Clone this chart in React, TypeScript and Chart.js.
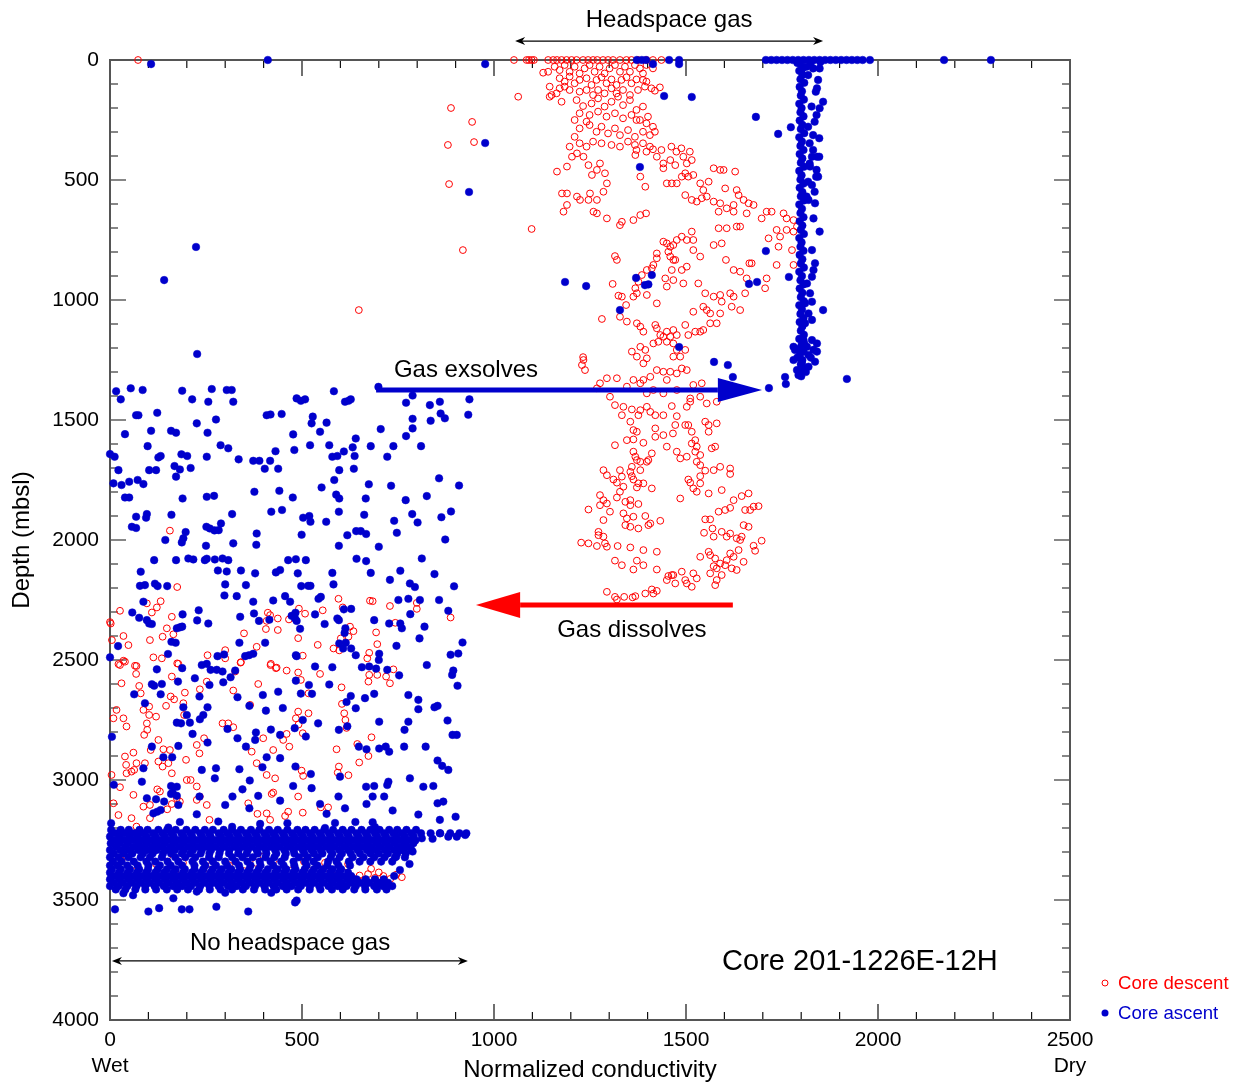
import { useEffect, useRef } from 'react';
import { Chart, registerables } from 'chart.js';

Chart.register(...registerables);

type P = [number, number];

// ---------- axis tick labels ----------
const xMajorTicks = [0, 500, 1000, 1500, 2000, 2500];
const xEndNotes = ['Wet', 'Dry'];
const yMajorTicks = [0, 500, 1000, 1500, 2000, 2500, 3000, 3500, 4000];

// ---------- Core descent (red open circles) ----------
const descentSurface: P[] = [[73,0],[1052,0],[1085,0],[1091,0],[1098,0],[1104,0],[1141,0],[1154,0],[1164,0],[1176,0],[1189,0],[1202,0],[1215,0],[1232,0],[1245,0],[1258,0],[1269,0],[1284,0],[1297,0],[1310,0],[1328,0],[1345,0],[1358,0],[1375,0],[1397,0],[1414,0],[1436,0]];

const descentShallow: P[] = [[1128,53],[1141,49],[1158,28],[1171,42],[1184,21],[1197,49],[1210,28],[1223,56],[1236,35],[1249,21],[1262,49],[1275,28],[1288,56],[1301,35],[1315,21],[1328,49],[1341,28],[1354,49],[1367,21],[1380,35],[1397,21],[1414,35],
[1171,76],[1184,90],[1197,69],[1210,97],[1223,83],[1241,76],[1254,104],[1267,83],[1280,72],[1293,97],[1306,81],[1319,104],[1332,83],[1345,72],[1358,97],[1371,81],[1388,83],
[1171,118],[1184,111],[1197,125],[1163,139],[1150,146],[1145,111],[1223,132],[1241,125],[1258,146],[1271,125],[1288,139],[1306,118],[1319,139],[1336,125],[1354,146],[1375,125],[1393,111],[1410,118],[1419,128],[1432,114],[1397,90],[1388,56],
[1063,153],[1145,153],[1176,174],[1215,167],[1232,192],[1254,181],[1271,160],[1288,194],[1306,174],[1323,153],[1336,188],[1354,167],[1371,208],[1388,194],[1223,222],[1249,229],[1271,215],[1293,236],[1315,222],[1336,243],[1358,229],[1380,250],[1401,236],[1210,250],[1241,257],
[1223,285],[1249,271],[1267,299],[1280,278],[1297,306],[1315,285],[1328,313],[1349,292],[1367,320],[1388,299],[1406,313],[1419,299],[1397,264],[1414,278],[1371,250],[1210,320],[1223,347],[1241,361],[1258,340],[1280,347],[1306,354],[1328,361],[1349,340],[1367,354],[1388,347],[1406,361],[1197,361],
[1371,375],[1397,382],[1414,372],[1436,375],[1462,361],[1475,382],[1488,368],[1510,382]];

const descentMid: P[] = [[1164,465],[1190,444],[1203,403],[1216,389],[1233,403],[1246,438],[1255,479],[1268,458],[1276,431],[1289,472],[1294,514],[1285,549],[1268,583],[1246,583],[1224,583],[1216,569],[1190,556],[1177,556],[1190,604],[1181,632],[1250,556],[1259,632],[1268,639],[1294,660],[1333,674],[1363,667],[1381,646],[1396,639],[1328,688],[1368,396],[1381,486],[1394,528],[1424,403],[1441,431],[1459,417],[1472,438],[1493,403],[1502,431],[1515,417],[1441,451],[1450,514],[1463,514],[1476,514],[1489,486],[1498,472],[1506,486],[1519,479],[1537,514],[1498,563],[1515,583],[1528,590],[1541,576],[1554,569],[1545,542],[1559,507],[1572,451],[1589,458],[1598,458],[1628,465],[1572,590],[1589,597],[1585,632],[1606,618],[1624,604],[1602,535],[1632,542],[1637,563],[1650,583],[1663,597],[1676,604],[1624,632],[1658,639],[1632,694],[1641,694],[1585,701],[1606,701],[1697,660],[1710,632],[1723,632],[1754,639],[1762,660],[1780,667],[1789,694],[1762,708],[1736,708],[1745,736],[1780,715],[1715,743],[1741,778],[1776,792],[1780,854],[1736,854],
[1441,757],[1450,764],[1459,778],[1467,771],[1476,750],[1489,736],[1515,715],[1502,750],[1519,750],[1454,799],[1459,819],[1467,833],[1424,806],[1424,826],[1415,854],[1411,868],[1398,875],[1385,896],[1376,924],[1368,951],[1372,972],[1363,986],[1398,979],[1424,1014],[1450,944],[1446,910],[1463,875],[1472,833],[1489,875],[1502,861],[1467,917],[1493,931],[1537,819],[1519,792],[1572,771],[1593,764],[1604,833],[1624,875],[1641,882],[1665,847],[1671,847],[1658,910],[1710,910],[1706,951],[1654,972],[1615,972],[1589,979],[1624,986],[1593,1007],[1572,986],[1550,972],[1545,1028],[1554,1042],[1563,1056],[1519,1049],[1532,931],[1315,817],[1320,833],[1309,933],[1324,982],[1333,986],[1344,1021],[1328,1070],[1281,1079],[1346,1090],[1372,1097],[1381,1111],[1389,1132],[1420,1104],[1424,1118],[1433,1146],[1450,1132],[1467,1125],[1476,1146],[1498,1104],[1506,1146],[1524,1132],[1537,1132],[1545,1125],[1563,1097],[1580,1097],[1589,1056],[1619,1028],[1641,1042],[1233,1250],[1237,1292],
[1359,1215],[1372,1236],[1381,1195],[1394,1208],[1389,1264],[1398,1243],[1415,1181],[1428,1174],[1441,1153],[1450,1174],[1459,1153],[1467,1181],[1476,1208],[1467,1236],[1485,1236],[1498,1208],[1502,1292],[1489,1285],[1476,1306],[1459,1299],[1441,1299],[1424,1292],[1407,1320],[1389,1333],[1381,1347],[1363,1333],[1346,1361],[1320,1326],[1294,1326],[1276,1347],[1268,1368],[1302,1403],[1537,1403],[1511,1410],[1541,1347],[1519,1354],[1450,1333],[1476,1375],[1441,1389],[1415,1375],[1398,1389]];

const descentDeep: P[] = [[1315,1438],[1333,1480],[1337,1445],[1359,1456],[1376,1480],[1381,1459],[1398,1445],[1407,1466],[1420,1480],[1441,1480],[1463,1442],[1476,1484],[1502,1445],[1511,1424],[1554,1431],[1580,1424],[1355,1507],[1363,1542],[1372,1549],[1389,1595],[1420,1535],[1420,1570],[1441,1563],[1450,1611],[1466,1556],[1472,1521],[1476,1632],[1485,1660],[1498,1521],[1506,1521],[1515,1549],[1515,1598],[1524,1584],[1528,1611],[1502,1653],[1528,1674],[1537,1646],[1550,1507],[1559,1521],[1559,1549],[1580,1514],[1567,1618],[1576,1611],[1315,1605],[1346,1584],[1363,1581],[1363,1632],[1368,1653],[1372,1667],[1381,1674],[1398,1674],[1411,1639],[1402,1667],
[1285,1709],[1294,1730],[1311,1748],[1320,1761],[1328,1709],[1333,1736],[1359,1695],[1355,1716],[1359,1734],[1381,1709],[1363,1748],[1376,1764],[1389,1764],[1372,1781],[1411,1785],[1337,1778],[1328,1799],[1276,1813],[1285,1834],[1294,1848],[1276,1855],[1302,1882],[1320,1823],[1342,1841],[1355,1834],[1355,1855],[1376,1850],[1337,1889],[1346,1910],[1363,1903],[1342,1938],[1355,1945],[1376,1952],[1394,1900],[1407,1931],[1402,1938],[1433,1920],[1285,1917],[1272,1966],[1272,1980],[1285,1986],[1289,2014],[1294,2028],[1246,1873],[1227,2011],[1246,2014],[1268,2025],[1322,2025],[1355,2031],[1389,2042],[1424,2049],[1315,2086],[1333,2105],[1372,2086],[1389,2105],[1363,2123],[1424,2123],
[1294,2216],[1315,2237],[1320,2248],[1339,2237],[1361,2239],[1368,2234],[1394,2223],[1411,2206],[1415,2223],[1424,2212],[1450,2167],[1454,2150],[1463,2146],[1467,2146],[1472,2181],[1489,2132],[1498,2167],[1502,2181],[1515,2195],[1519,2139],[1528,2160],[1537,2070],[1559,2049],[1563,2063],[1576,2077],[1572,2109],[1563,2139],[1580,2118],[1580,2167],[1576,2188],[1593,2146],[1589,2098],[1602,2105],[1615,2056],[1619,2118],[1606,2084],[1624,2070],[1632,2125],[1637,2042],[1650,2091],[1676,2024],[1680,2045],[1697,2003],[1641,2000],[1632,1993],[1645,1986],[1615,1973],[1606,1986],[1593,1966],[1572,1986],[1547,1970],[1569,1952],[1550,1914],[1563,1914],[1585,1882],[1602,1875],[1615,1866],[1624,1834],[1645,1817],[1663,1806],[1654,1875],[1667,1875],[1676,1861],[1689,1859],[1650,1938],[1663,1945],[1485,1827],[1506,1748],[1511,1761],[1519,1785],[1528,1799],[1537,1764],[1537,1734],[1559,1806],[1593,1792],[1550,1711],[1572,1709],[1589,1695],[1615,1702],[1615,1725],[1524,1632],[1537,1688]];

const descentOutliers: P[] = [[888,200],[943,258],[880,354],[948,342],[883,517],[919,792],[648,1042],[1098,704],[1232,1238],[1229,1271]];

const descentLowerA: P[] = [[156,1961],[175,2196],[96,2264],[132,2255],[122,2281],[109,2302],[161,2320],[26,2295],[2,2348],[35,2400],[48,2438],[104,2417],[137,2403],[148,2368],[165,2393],[113,2489],[65,2524],[22,2517],[35,2503],[175,2514],[254,2480],[300,2459],[349,2389],[382,2445],[408,2337],[411,2303],[417,2313],[437,2327],[406,2371],[437,2375],[466,2331],[492,2286],[508,2307],[554,2293],[490,2409],[502,2482],[541,2437],[582,2452],[597,2460],[601,2410],[621,2403],[634,2380],[595,2245],[606,2281],[625,2361],[677,2253],[684,2255],[729,2275],[743,2345],[799,2262],[799,2287],[887,2323],[693,2385],[696,2434],[670,2493],[675,2470],[418,2521],[434,2532],[300,2493],[341,2509],[0,2342],[5,2417]];

const descentLowerB: P[] = [[69,2525],[26,2521],[39,2507],[68,2558],[76,2608],[80,2639],[30,2597],[17,2708],[9,2743],[35,2743],[43,2777],[87,2708],[102,2694],[102,2729],[96,2764],[89,2812],[97,2791],[126,2833],[106,2875],[139,2872],[120,2736],[161,2569],[135,2493],[178,2516],[195,2636],[167,2664],[158,2652],[146,2691],[191,2680],[193,2729],[226,2854],[233,2889],[245,2826],[252,2590],[234,2622],[321,2627],[326,2548],[340,2511],[293,2764],[308,2764],[321,2780],[365,2687],[386,2600],[399,2826],[419,2516],[432,2534],[460,2544],[490,2552],[497,2583],[517,2639],[547,2558],[517,2722],[490,2715],[484,2743],[460,2808],[451,2833],[491,2769],[502,2805],[467,2861],[369,2882],[425,2875],[382,2930],[408,2979],[430,2993],[360,3097],[384,3141],[408,3139],[456,3150],[464,3132],[417,3166],[421,3058],[425,3052],[502,3136],[490,3069],[503,2983],[499,2961],[549,3114],[568,3114],[590,2872],[593,2969],[621,2980],[596,2944],[603,2614],[604,2683],[610,2722],[613,2750],[616,2783],[649,2927],[644,2850],[675,2562],[696,2562],[719,2569],[729,2597],[738,2539],[681,2822],[673,2900],[673,2590],[234,3069],[252,3104],[259,3166],[161,3100],[149,3122],[104,3159],[87,3111],[69,3194],[56,3159],[61,3062],[104,3104],[26,3030],[22,3146],[9,3097],[4,2979],[43,2972],[56,2965],[63,2958],[69,2930],[61,2886],[39,2902],[42,2937],[91,2930],[126,2923],[137,2944],[152,2930],[161,2972],[156,2875],[200,3000],[210,3000],[226,3027],[226,3083],[198,2916],[123,3039],[130,3048],[174,3076],[182,3090]];

const descentBand: P[] = [[560,3392],[585,3400],[610,3385],[630,3405],[650,3398],[672,3392],[690,3408],[712,3400],[730,3412],[655,3420],[700,3385],[30,3335],[120,3350],[190,3345],[250,3340],[310,3355],[380,3345],[440,3350],[505,3340],[60,3380],[170,3385],[260,3375],[350,3380],[470,3378],[45,3310],[150,3315],[400,3318],[560,3345],[620,3350],[95,3395],[225,3410],[330,3405],[520,3380],[745,3395],[760,3405],[680,3370]];

// ---------- Core ascent (blue filled dots) ----------
const ascentSurface: P[] = [[107,17],[411,0],[977,17],[1372,0],[1385,0],[1396,0],[1414,17],[1456,0],[1482,0],[1482,17],[1708,0],[1722,0],[1736,0],[1750,0],[1764,0],[1778,0],[1792,0],[1806,0],[1820,0],[1834,0],[1848,0],[1862,0],[1876,0],[1890,0],[1904,0],[1918,0],[1932,0],[1946,0],[1960,0],[1979,0],[1790,12],[1825,10],[1850,8],[2172,0],[2294,0]];

const ascentColumn: P[] = [[1797,15],[1806,30],[1795,45],[1803,62],[1798,80],[1808,95],[1796,112],[1802,130],[1799,148],[1807,165],[1795,182],[1801,200],[1798,218],[1806,235],[1796,252],[1803,270],[1799,288],[1808,305],[1795,322],[1802,340],[1798,358],[1806,375],[1796,392],[1803,410],[1799,428],[1807,445],[1795,462],[1801,480],[1798,498],[1806,515],[1796,532],[1803,550],[1799,568],[1807,585],[1795,602],[1802,620],[1798,638],[1806,655],[1796,672],[1803,690],[1799,708],[1807,725],[1795,742],[1801,760],[1798,778],[1806,795],[1796,812],[1803,830],[1799,848],[1807,865],[1795,882],[1802,900],[1798,918],[1806,935],[1796,952],[1803,970],[1799,988],[1807,1005],[1795,1022],[1802,1040],[1798,1058],[1806,1075],[1796,1092],[1803,1110],[1799,1128],[1807,1145],[1795,1162],[1802,1180],[1798,1198],[1806,1215],[1796,1232],[1803,1250],[1799,1268],[1807,1285],[1797,1302],[1800,1318],
[1844,83],[1841,118],[1838,132],[1857,174],[1848,201],[1827,194],[1840,229],[1835,257],[1818,278],[1831,313],[1847,326],[1822,347],[1831,375],[1847,403],[1822,431],[1840,458],[1844,486],[1818,507],[1835,549],[1814,569],[1818,63],[1814,28],[1831,35],[1848,35],[1801,42],
[1828,403],[1841,403],[1823,444],[1839,486],[1828,521],[1819,583],[1836,597],[1832,660],[1848,715],[1828,792],[1836,847],[1828,903],[1832,875],[1815,931],[1823,972],[1810,1014],[1828,1007],[1819,1056],[1828,1083],[1810,1097],[1841,1181],[1832,1208],[1819,1229],[1841,1215],[1797,1215],[1784,1208],[1780,1250],[1802,1264],[1789,1292],[1793,1313],[1819,1278],[1836,1257],[1806,1167],[1815,1195],[1780,1195],[1828,1167],[1808,1181],[1790,1240],[1812,1300],[1825,1240]];

const ascentOutliers: P[] = [[1443,150],[1515,154],[1682,237],[1740,308],[1773,280],[1380,446],[1708,796],[1768,904],[1185,925],[1240,942],[1370,908],[1411,896],[1393,938],[1402,935],[1664,933],[1685,925],[1328,1042],[1482,1196],[1573,1258],[1609,1271],[1622,1321],[1716,1367],[1758,1321],[1760,1350],[1857,1042],[1919,1329],[977,346],[935,550],[141,917],[224,779],[227,1225]];

const ascentUpper: P[] = [[16,1380],[28,1414],[54,1368],[85,1375],[188,1378],[214,1414],[256,1424],[265,1371],[304,1375],[317,1375],[321,1424],[486,1410],[497,1420],[508,1414],[583,1380],[612,1424],[621,1420],[627,1414],[771,1428],[788,1398],[859,1424],[936,1414],[699,1362],
[68,1480],[74,1480],[123,1470],[226,1514],[254,1553],[276,1498],[408,1480],[418,1477],[447,1475],[477,1560],[525,1514],[528,1486],[547,1549],[564,1511],[771,1567],[788,1535],[788,1495],[835,1503],[833,1438],[861,1473],[872,1493],[933,1478],[39,1559],[107,1545],[159,1545],[172,1553],[98,1609],[126,1656],[132,1650],[186,1643],[201,1650],[252,1653],[288,1605],[308,1618],[335,1664],[373,1670],[389,1670],[403,1703],[417,1670],[431,1630],[438,1703],[480,1625],[521,1605],[571,1605],[579,1653],[592,1650],[597,1709],[609,1631],[632,1614],[640,1577],[637,1650],[635,1703],[679,1609],[705,1538],[722,1653],[738,1609],[810,1609],[0,1642],[12,1653],[22,1709],
[9,1764],[30,1771],[50,1757],[72,1750],[87,1767],[102,1709],[120,1709],[168,1692],[172,1736],[182,1706],[210,1700],[39,1823],[50,1823],[68,1903],[96,1892],[94,1907],[57,1945],[68,1950],[160,1895],[189,1827],[252,1820],[271,1816],[318,1892],[376,1799],[420,1882],[441,1795],[448,1875],[476,1823],[503,1907],[519,1900],[522,1924],[551,1781],[563,1924],[584,1750],[589,1811],[597,1827],[596,1882],[662,1895],[666,1827],[674,1768],[732,1774],[770,1834],[787,1892],[801,1927],[825,1817],[857,1743],[863,1905],[888,1881],[909,1773],[873,1998],[747,1970],[740,1920],[700,2028],[641,1963],[653,1963],[667,1975],[618,1980],[596,2024],[499,1978],[382,1973],[381,2020],[321,2014],[250,2024],[251,1945],[260,1952],[272,1960],[283,1959],[289,1931],[197,1967],[191,1993],[187,2010],[144,2000],
[115,2084],[172,2084],[204,2077],[217,2081],[247,2084],[252,2078],[273,2081],[293,2077],[308,2084],[281,2127],[304,2131],[341,2127],[378,2139],[432,2135],[443,2125],[464,2084],[484,2080],[510,2084],[489,2139],[579,2137],[582,2185],[498,2192],[516,2191],[522,2191],[354,2188],[300,2185],[298,2231],[330,2234],[373,2257],[425,2252],[456,2234],[469,2257],[80,2132],[78,2191],[91,2188],[117,2182],[124,2192],[149,2192],[87,2257],[58,2302],[76,2324],[96,2334],[102,2348],[109,2350],[189,2310],[174,2368],[182,2364],[188,2361],[160,2424],[171,2428],[151,2475],[227,2335],[256,2348],[231,2293],[339,2320],[375,2306],[388,2337],[404,2428],[415,2332],[483,2303],[482,2327],[486,2337],[495,2370],[473,2316],[534,2310],[543,2245],[549,2237],[559,2350],[592,2327],[596,2334],[609,2289],[613,2368],[611,2387],[597,2431],[614,2428],[607,2452],[628,2287],[642,2078],[667,2088],[679,2137],[729,2166],[756,2128],[781,2181],[794,2196],[751,2250],[777,2245],[807,2250],[857,2250],[782,2309],[727,2348],[756,2348],[760,2368],[819,2361],[806,2410],[746,2441],[881,2295],[896,2193],[845,2142],[812,2077],[918,2427],[907,2473],[887,2478],[701,2474],[700,2500],[688,2334],[640,2480],[628,2452],[337,2428],[280,2484],[297,2477],[352,2484],[362,2480],[373,2474],[484,2480],[486,2484],[0,2489],[21,2442]];

const ascentLower: P[] = [[239,2521],[252,2516],[262,2541],[278,2541],[188,2534],[122,2539],[534,2527],[579,2530],[656,2530],[675,2527],[693,2536],[722,2541],[825,2521],
[177,2590],[221,2576],[259,2604],[295,2593],[314,2572],[332,2655],[398,2646],[438,2632],[497,2640],[484,2586],[518,2604],[526,2641],[571,2602],[627,2650],[664,2659],[688,2641],[753,2564],[891,2562],[894,2544],[905,2607],[777,2646],[803,2666],[63,2643],[109,2601],[115,2607],[135,2600],[132,2643],[233,2652],[293,2548],[326,2544],
[91,2680],[191,2697],[254,2697],[363,2691],[406,2711],[450,2700],[502,2750],[542,2764],[616,2675],[640,2701],[701,2757],[767,2791],[845,2697],[853,2691],[879,2752],[892,2812],[903,2812],[803,2705],[777,2757],[174,2761],[185,2764],[208,2761],[215,2808],[200,2729],[243,2729],[234,2747],[306,2787],[332,2826],[380,2802],[378,2833],[354,2861],[419,2790],[443,2812],[481,2784],[510,2819],[596,2791],[618,2776],[648,2861],[668,2872],[701,2869],[718,2861],[727,2882],[766,2861],[822,2861],[853,2919],[865,2941],[881,2958],[178,2858],[109,2861],[139,2905],[162,2905],[254,2844],[5,2820],
[87,2951],[83,3007],[96,3076],[120,3080],[141,3090],[113,3139],[123,3132],[132,3125],[159,3058],[163,3052],[174,3066],[159,3025],[174,3028],[178,3104],[182,3175],[233,3069],[226,3143],[239,2958],[276,2951],[273,2993],[300,3104],[319,3069],[337,2955],[345,3039],[364,3002],[363,3118],[386,3066],[397,2947],[408,2905],[443,2909],[443,3086],[477,3025],[483,2944],[523,2975],[525,3034],[547,3100],[564,3141],[612,3118],[595,3069],[599,2986],[667,3028],[684,3069],[688,3025],[722,3021],[725,3007],[714,3069],[736,3127],[781,2993],[803,3144],[842,3025],[853,3097],[859,3166],[868,3090],[816,3028],[900,3153],[668,3100],[684,3176],[639,3175],[586,3179],[462,3180],[391,3183],[282,3173],[10,3020],[3,3180]];

// dense band near 3200-3460 mbsl: one depth per row, x positions read per row
const ascentBandDepths = [3208, 3222, 3236, 3250, 3264, 3278, 3292, 3306, 3322, 3340, 3356, 3372, 3386, 3400, 3414, 3428, 3442, 3456];
const ascentBandRows: number[][] = [
  [3,28,49,77,98,126,149,171,199,222,247,268,296,318,341,367,389,414,437,462,488,509,533,558,581,606,629,655,678,702,727,748,772,797],
  [14,38,63,86,112,137,160,186,210,235,258,283,306,330,354,378,402,425,450,474,497,521,546,570,594,617,642,666,690,714,738,760,785,810,835,860,886,910,928],
  [0,25,51,72,95,119,143,166,192,214,240,262,289,312,335,360,383,408,431,455,480,503,527,551,575,599,622,647,671,696,719,745,768,791],
  [12,37,60,84,108,131,155,180,203,228,251,275,299,323,346,371,395,419,443,467,491,515,539,563,587,610,635,659,683,707,731,755,780],
  [2,24,47,73,96,120,143,168,192,216,240,263,287,311,334,358,383,407,430,455,478,502,526,550,574,598,622,646,670,694,718,742,766,790],
  [15,39,61,85,109,132,157,180,204,228,252,275,299,323,347,370,395,419,442,466,490,514,538,562,585,610,634,658,681,705,729,753,776],
  [0,27,50,74,97,121,145,169,192,216,239,263,287,311,335,359,382,406,430,454,478,502,525,549,573,597,621,645,669,692,716,740,763,785],
  [10,36,58,86,111,138,159,187,209,236,259,285,310,334,356,385,407,433,458,480,506,531,553,579,604,627,651,678,700,724,748,770],
  [0,22,48,80,104,135,170,196,222,258,283,318,345,372,405,428,455,492,515,541,575,598,632,660,688,715,742,768],
  [8,30,62,95,118,150,178,215,242,268,300,327,358,390,418,446,478,508,530,568,590,622,650,678,706,735],
  [0,20,45,72,100,130,158,188,220,248,276,305,336,366,392,425,452,480,512,540,566,595,625],
  [5,28,52,76,99,124,148,171,195,220,243,267,291,316,339,363,387,411,436,459,483,507,531,555,579,602],
  [0,23,46,70,94,118,141,165,190,213,237,262,285,309,333,357,381,405,430,453,477,501,525,548,573,596,620],
  [12,36,59,83,106,130,154,178,201,225,249,273,296,320,344,368,392,416,439,463,487,511,535,558,582,605,628],
  [0,24,48,71,95,119,143,166,190,214,238,261,285,309,333,357,380,404,428,452,475,499,523,547,571,594,618,642,666,690,713],
  [10,33,57,81,104,128,152,176,200,223,247,271,295,318,342,366,390,414,437,461,485,509,532,556,580,604,628,651,675,700,724],
  [0,22,45,69,92,116,140,164,188,211,235,259,283,307,330,354,378,402,426,450,473,497,521,545,569,593,616,640,664,688,711,735],
  [15,40,66,92,120,148,175,203,232,260,288,318,346,375,404,433,460,490,520,548,578,606,636,665,695,720],
];
const ascentBandExtra: P[] = [[925,3229],[903,3236],[881,3236],[859,3222],[840,3245],[812,3243],[795,3252],[788,3298],[770,3262],[755,3375],[720,3437],[703,3430],[745,3320],[760,3290],[780,3350],[740,3400],[318,3195],[152,3198],[560,3200],[690,3196]];
const ascentDeepest: P[] = [[35,3472],[165,3493],[226,3465],[486,3502],[13,3539],[100,3548],[128,3534],[187,3539],[207,3539],[277,3528],[360,3548],[482,3510],[60,3480],[300,3470],[420,3470]];

// ---------- series assembly ----------
const toXY = (pts: P[]) => pts.map(([x, y]) => ({ x, y }));
const bandPoints: P[] = ascentBandRows.flatMap((row, i) => row.map((x) => [x, ascentBandDepths[i]] as P));

const descentAll: P[] = [...descentSurface, ...descentShallow, ...descentMid, ...descentDeep, ...descentOutliers, ...descentLowerA, ...descentLowerB, ...descentBand];
const ascentAll: P[] = [...ascentSurface, ...ascentColumn, ...ascentOutliers, ...ascentUpper, ...ascentLower, ...bandPoints, ...ascentBandExtra, ...ascentDeepest];

const RED = '#ff0000';
const BLUE = '#0000cc';
const FONT = "'Liberation Sans', Arial, Helvetica, sans-serif";

// annotations in data coordinates
const annotationTexts = [
  { text: 'Headspace gas', x: 1456, y: -137, size: 24 },
  { text: 'Gas exsolves', x: 927, y: 1321, size: 24 },
  { text: 'Gas dissolves', x: 1359, y: 2404, size: 24 },
  { text: 'No headspace gas', x: 469, y: 3708, size: 24 },
  { text: 'Core 201-1226E-12H', x: 1953, y: 3790, size: 29 },
];

const frameTicks = {
  id: 'frameTicks',
  beforeDatasetsDraw(chart: any) {
    const { ctx, chartArea: a, scales } = chart;
    const xs = scales.x, ys = scales.y;
    ctx.save();
    ctx.strokeStyle = '#111';
    ctx.lineWidth = 1.2;
    ctx.beginPath();
    xs.ticks.forEach((t: any) => {
      const px = xs.getPixelForValue(t.value);
      const len = xMajorTicks.includes(t.value) ? 16 : 8;
      ctx.moveTo(px, a.bottom); ctx.lineTo(px, a.bottom - len);
      ctx.moveTo(px, a.top); ctx.lineTo(px, a.top + len);
    });
    ys.ticks.forEach((t: any) => {
      const py = ys.getPixelForValue(t.value);
      const len = yMajorTicks.includes(t.value) ? 16 : 8;
      ctx.moveTo(a.left, py); ctx.lineTo(a.left + len, py);
      ctx.moveTo(a.right, py); ctx.lineTo(a.right - len, py);
    });
    ctx.stroke();
    ctx.strokeStyle = '#555';
    ctx.lineWidth = 2;
    ctx.strokeRect(a.left, a.top, a.right - a.left, a.bottom - a.top);
    ctx.restore();
  },
  afterDatasetsDraw(chart: any) {
    const { ctx, scales } = chart;
    const X = (v: number) => scales.x.getPixelForValue(v);
    const Y = (v: number) => scales.y.getPixelForValue(v);
    ctx.save();

    const thickArrow = (x1: number, x2: number, xb: number, yv: number, color: string, half: number) => {
      const py = Y(yv);
      ctx.strokeStyle = color; ctx.fillStyle = color; ctx.lineWidth = 5;
      ctx.beginPath(); ctx.moveTo(X(x1), py); ctx.lineTo(X(xb), py); ctx.stroke();
      ctx.beginPath(); ctx.moveTo(X(x2), py); ctx.lineTo(X(xb), py - half); ctx.lineTo(X(xb), py + half); ctx.closePath(); ctx.fill();
    };
    const doubleArrow = (x1: number, x2: number, yv: number) => {
      const py = Y(yv), p1 = X(x1), p2 = X(x2);
      ctx.strokeStyle = '#000'; ctx.fillStyle = '#000'; ctx.lineWidth = 1.2;
      ctx.beginPath(); ctx.moveTo(p1 + 4, py); ctx.lineTo(p2 - 4, py); ctx.stroke();
      ctx.beginPath(); ctx.moveTo(p1, py); ctx.lineTo(p1 + 10, py - 4); ctx.lineTo(p1 + 7, py); ctx.lineTo(p1 + 10, py + 4); ctx.closePath(); ctx.fill();
      ctx.beginPath(); ctx.moveTo(p2, py); ctx.lineTo(p2 - 10, py - 4); ctx.lineTo(p2 - 7, py); ctx.lineTo(p2 - 10, py + 4); ctx.closePath(); ctx.fill();
    };

    thickArrow(693, 1698, 1583, 1375, BLUE, 12);
    thickArrow(1622, 953, 1068, 2271, RED, 13);
    doubleArrow(1055, 1857, -79);
    doubleArrow(5, 932, 3754);

    ctx.fillStyle = '#000';
    ctx.textAlign = 'center';
    ctx.textBaseline = 'alphabetic';
    annotationTexts.forEach((t) => {
      ctx.font = `${t.size}px ${FONT}`;
      ctx.fillText(t.text, X(t.x), Y(t.y));
    });
    ctx.restore();
  },
  afterDraw(chart: any) {
    const { ctx } = chart;
    ctx.save();
    ctx.font = `18.6px ${FONT}`;
    ctx.textAlign = 'left';
    ctx.textBaseline = 'middle';
    ctx.strokeStyle = RED; ctx.lineWidth = 1;
    ctx.beginPath(); ctx.arc(1105, 983, 3, 0, Math.PI * 2); ctx.stroke();
    ctx.fillStyle = RED; ctx.fillText('Core descent', 1118, 984);
    ctx.fillStyle = BLUE;
    ctx.beginPath(); ctx.arc(1105, 1013, 3.5, 0, Math.PI * 2); ctx.fill();
    ctx.fillText('Core ascent', 1118, 1014);
    ctx.restore();
  },
};

export default function App() {
  const ref = useRef<HTMLCanvasElement>(null);
  useEffect(() => {
    Chart.defaults.font.family = FONT;
    const chart = new Chart(ref.current as HTMLCanvasElement, {
      type: 'scatter',
      data: {
        datasets: [
          {
            label: 'Core ascent',
            data: toXY(ascentAll),
            backgroundColor: BLUE,
            borderColor: BLUE,
            borderWidth: 0.5,
            pointRadius: 3.8,
            pointStyle: 'circle',
            clip: false,
            order: 0,
          },
          {
            label: 'Core descent',
            data: toXY(descentAll),
            backgroundColor: 'rgba(0,0,0,0)',
            borderColor: RED,
            borderWidth: 1,
            pointRadius: 3.4,
            pointStyle: 'circle',
            clip: false,
            order: 1,
          },
        ],
      },
      options: {
        responsive: false,
        animation: false,
        devicePixelRatio: 1,
        events: [],
        layout: { padding: { top: 60, right: 169, left: 0, bottom: 0 } },
        plugins: { legend: { display: false }, tooltip: { enabled: false }, title: { display: false } },
        scales: {
          x: {
            type: 'linear',
            position: 'bottom',
            min: 0,
            max: 2500,
            afterFit: (s: any) => { s.height = 65; },
            grid: { display: false, drawTicks: false },
            border: { display: false },
            ticks: {
              stepSize: 100,
              autoSkip: false,
              maxRotation: 0,
              padding: 7,
              color: '#000',
              font: { size: 21, lineHeight: 1.24 },
              callback: (v: any) => {
                if (!xMajorTicks.includes(v)) return '';
                if (v === xMajorTicks[0]) return [String(v), xEndNotes[0]];
                if (v === xMajorTicks[xMajorTicks.length - 1]) return [String(v), xEndNotes[1]];
                return String(v);
              },
            },
            title: { display: true, text: 'Normalized conductivity', color: '#000', font: { size: 24 }, padding: { top: 0, bottom: 0 } },
          },
          y: {
            type: 'linear',
            position: 'left',
            min: 0,
            max: 4000,
            reverse: true,
            afterFit: (s: any) => { s.width = 110; },
            grid: { display: false, drawTicks: false },
            border: { display: false },
            ticks: {
              stepSize: 100,
              autoSkip: false,
              padding: 11,
              color: '#000',
              font: { size: 21 },
              callback: (v: any) => (yMajorTicks.includes(v) ? String(v) : ''),
            },
            title: { display: true, text: 'Depth (mbsl)', color: '#000', font: { size: 24 }, padding: { top: 8, bottom: 0 } },
          },
        },
      },
      plugins: [frameTicks],
    });
    return () => chart.destroy();
  }, []);
  return (
    <div style={{ position: 'fixed', left: 0, top: 0, width: 1239, height: 1085, background: '#fff' }}>
      <canvas ref={ref} width={1239} height={1085} style={{ display: 'block', width: 1239, height: 1085 }} />
    </div>
  );
}
